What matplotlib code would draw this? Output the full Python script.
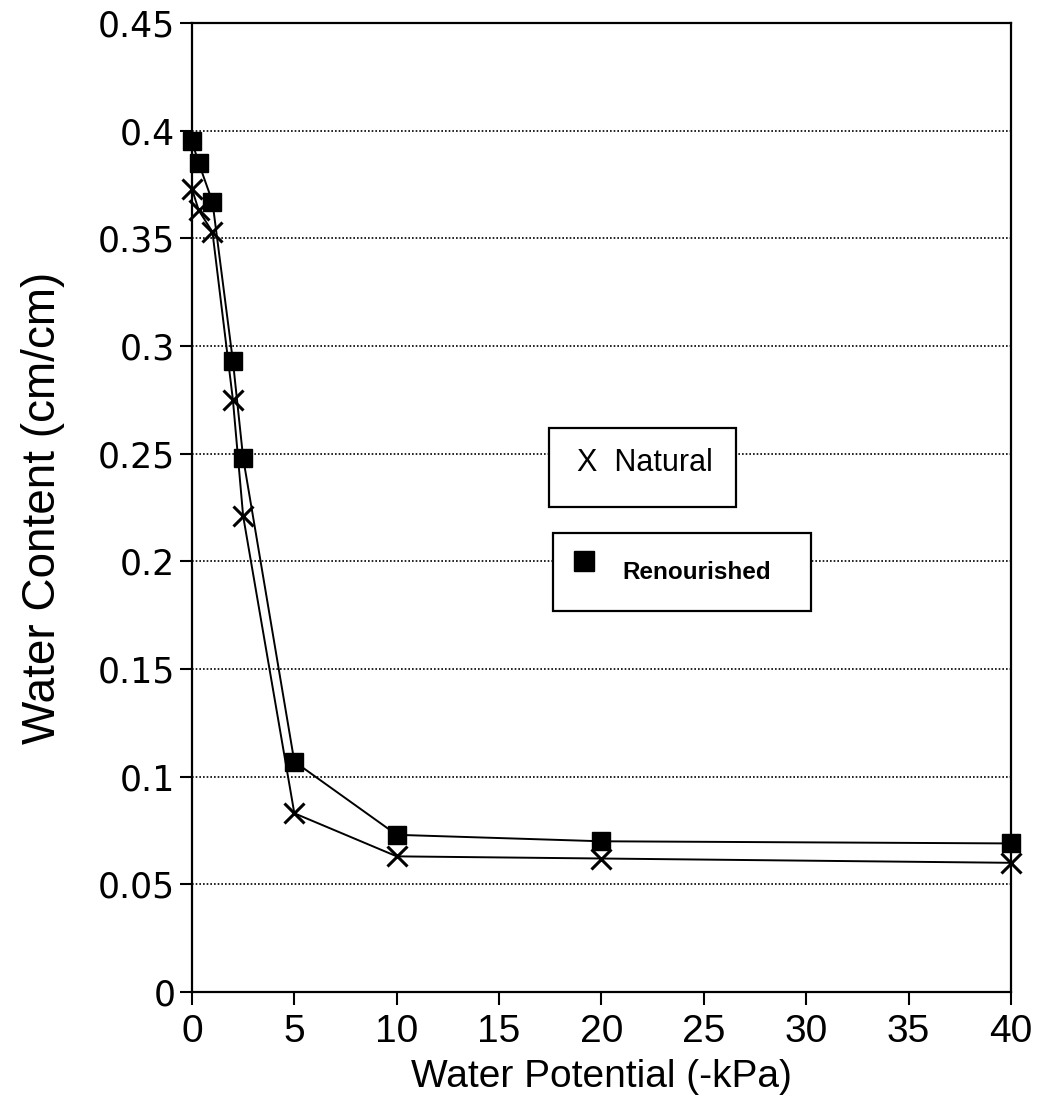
import matplotlib
matplotlib.use("Agg")
import matplotlib.pyplot as plt
from matplotlib.patches import Rectangle

# water potential (-kPa) and water content (cm/cm)
potential = [0, 0.33, 1, 2, 2.5, 5, 10, 20, 40]
natural = [0.373, 0.363, 0.353, 0.275, 0.221, 0.083, 0.063, 0.062, 0.060]
renourished = [0.395, 0.385, 0.367, 0.293, 0.248, 0.107, 0.073, 0.070, 0.069]

x_ticks = [0, 5, 10, 15, 20, 25, 30, 35, 40]
y_ticks = [0, 0.05, 0.1, 0.15, 0.2, 0.25, 0.3, 0.35, 0.4, 0.45]

sans = ["Liberation Sans", "DejaVu Sans"]
plt.rcParams["font.family"] = sans

fig = plt.figure(figsize=(10.41, 11.12), dpi=100)
ax = fig.add_axes([0.1844, 0.1079, 0.7868, 0.8714])

ax.plot(potential, renourished, color="black", lw=1.4, marker="s", ms=13,
        mfc="black", mec="black", clip_on=False, zorder=3)
ax.plot(potential, natural, color="black", lw=1.4, marker="x", ms=14,
        mew=2.2, clip_on=False, zorder=4)

ax.set_xlim(0, 40)
ax.set_ylim(0, 0.45)
ax.set_xticks(x_ticks)
ax.set_yticks(y_ticks)
ax.set_yticklabels(["%g" % v for v in y_ticks], fontsize=25, family="DejaVu Sans")
ax.set_xticklabels([str(v) for v in x_ticks], fontsize=28)
ax.tick_params(direction="out", length=9, width=1.5, color="black")
ax.tick_params(axis="y", pad=3)
ax.tick_params(axis="x", pad=7)

for v in y_ticks[1:-1]:
    ax.axhline(v, color="black", lw=1.2, ls=(0, (1, 1.2)), zorder=1)

for s in ax.spines.values():
    s.set_linewidth(1.6)
    s.set_color("black")

ax.set_xlabel("Water Potential (-kPa)", fontsize=28, labelpad=6)
ax.set_ylabel("Water Content (cm/cm)", fontsize=33, labelpad=24)

# the two legend boxes, drawn separately as in the original
ax.add_patch(Rectangle((0.436, 0.5005), 0.228, 0.0815, transform=ax.transAxes,
                       fill=True, fc="white", ec="black", lw=1.6, zorder=5))
ax.text(0.470, 0.546, "X  Natural", transform=ax.transAxes, fontsize=22,
        va="center", ha="left", zorder=6)

ax.add_patch(Rectangle((0.441, 0.393), 0.315, 0.081, transform=ax.transAxes,
                       fill=True, fc="white", ec="black", lw=1.6, zorder=5))
ax.plot([0.479], [0.445], marker="s", ms=14, color="black",
        transform=ax.transAxes, zorder=6)
ax.text(0.526, 0.433, "Renourished", transform=ax.transAxes, fontsize=17.5,
        fontweight="bold", va="center", ha="left", zorder=6)

fig.savefig("out.png", dpi=100)
